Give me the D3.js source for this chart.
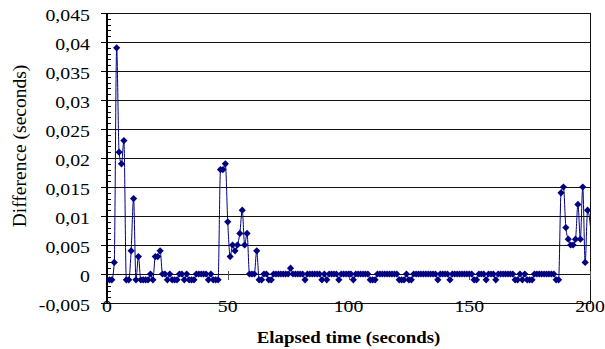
<!DOCTYPE html>
<html>
<head>
<meta charset="utf-8">
<script src="https://cdn.jsdelivr.net/npm/d3@7"></script>
<style>
  body { margin: 0; background: #fff; }
  svg { display: block; }
  text { font-family: "Liberation Serif", "Times New Roman", serif; fill: #000; }
</style>
</head>
<body>
<main></main>
<script>
// elapsed time (s) and measured difference (s)
var seconds = [
  1,2,3,4,5,6,7,8,9,10,11,12,13,14,15,16,17,18,19,20,
  21,22,23,24,25,26,27,28,29,30,31,32,33,34,35,36,37,38,39,40,
  41,42,43,44,45,46,47,48,49,50,51,52,53,54,55,56,57,58,59,60,
  61,62,63,64,65,66,67,68,69,70,71,72,73,74,75,76,77,78,79,80,
  81,82,83,84,85,86,87,88,89,90,91,92,93,94,95,96,97,98,99,100,
  101,102,103,104,105,106,107,108,109,110,111,112,113,114,115,116,117,118,119,120,
  121,122,123,124,125,126,127,128,129,130,131,132,133,134,135,136,137,138,139,140,
  141,142,143,144,145,146,147,148,149,150,151,152,153,154,155,156,157,158,159,160,
  161,162,163,164,165,166,167,168,169,170,171,172,173,174,175,176,177,178,179,180,
  181,182,183,184,185,186,187,188,189,190,191,192,193,194,195,196,197,198,199,201.5
];
var difference = [
  -0.001,-0.001,0.002,0.039,0.021,0.019,0.023,-0.001,-0.001,0.004,
  0.013,-0.001,0.003,-0.001,-0.001,-0.001,-0.001,0,-0.001,0.003,
  0.003,0.004,0,0,-0.001,0,-0.001,-0.001,-0.001,0,
  0,-0.001,0,-0.001,-0.001,-0.001,0,0,0,0,
  0,-0.001,0,-0.001,-0.001,-0.001,0.018,0.018,0.019,0.009,
  0.003,0.005,0.004,0.005,0.007,0.011,0.005,0.007,0,0,
  0,0.004,-0.001,-0.001,0,0,-0.001,-0.001,0,0,
  0,0,0,0,0,0.001,0,0,0,0,
  0,-0.001,0,0,0,0,0,0,-0.001,0,
  -0.001,0,0,0,0,-0.001,0,0,0,0,
  0,-0.001,0,0,0,0,0,0,-0.001,-0.001,
  -0.001,0,0,0,0,0,0,0,0,0,
  -0.001,-0.001,-0.001,0,-0.001,-0.001,0,0,0,0,
  0,0,0,0,0,0,-0.001,0,0,0,
  0,-0.001,0,0,0,0,0,0,0,0,
  0,-0.001,-0.001,0,0,0,-0.001,0,0,0,
  -0.001,0,0,0,0,0,0,0,-0.001,-0.001,
  0,-0.001,0,-0.001,-0.001,-0.001,0,0,0,0,
  0,0,0,0,0,-0.001,-0.001,0.014,0.015,0.008,
  0.006,0.005,0.005,0.006,0.012,0.006,0.015,0.002,0.011,0.001
];
var yTicks = [-0.005,0,0.005,0.01,0.015,0.02,0.025,0.03,0.035,0.04,0.045];
var yTickLabels = ["-0,005","0","0,005","0,01","0,015","0,02","0,025","0,03","0,035","0,04","0,045"];
var xTicks = [0,50,100,150,200];
var xTickLabels = ["0","50","100","150","200"];

var width = 605, height = 349;
var plotLeft = 107, plotRight = 590, plotTop = 13, plotBottom = 303;

var svg = d3.select("main")
  .append("svg")
  .attr("width", width)
  .attr("height", height);

var x = d3.scaleLinear().domain([0, 200]).range([plotLeft, plotRight]);
var y = d3.scaleLinear().domain([-0.005, 0.045]).range([plotBottom, plotTop]);

var data = seconds.map(function(s, i){ return {t: s, v: difference[i]}; });

//gridlines
svg.append("g")
  .selectAll("line")
  .data(yTicks)
  .enter()
  .append("line")
    .attr("x1", plotLeft)
    .attr("x2", plotRight)
    .attr("y1", function(d){ return Math.round(y(d)) + 0.5; })
    .attr("y2", function(d){ return Math.round(y(d)) + 0.5; })
    .style("stroke", "#111")
    .style("stroke-width", 1);

//right border
svg.append("line")
  .attr("x1", plotRight + 0.5).attr("x2", plotRight + 0.5)
  .attr("y1", plotTop).attr("y2", plotBottom + 1)
  .style("stroke", "#111");

//y axis with major + minor ticks
var yAxis = svg.append("g")
  .attr("transform", "translate(" + plotLeft + ",0)");
yAxis.append("line")
  .attr("y1", plotTop).attr("y2", plotBottom + 1)
  .style("stroke", "#000").style("stroke-width", 2);
yAxis.selectAll(".minor")
  .data(d3.range(-5, 46))
  .enter()
  .append("line")
    .attr("class", "minor")
    .attr("x1", 0).attr("x2", 4)
    .attr("y1", function(d){ return Math.round(y(d / 1000)) + 0.5; })
    .attr("y2", function(d){ return Math.round(y(d / 1000)) + 0.5; })
    .style("stroke", "#000");
yAxis.selectAll(".major")
  .data(yTicks)
  .enter()
  .append("line")
    .attr("class", "major")
    .attr("x1", -6).attr("x2", 4)
    .attr("y1", function(d){ return Math.round(y(d)) + 0.5; })
    .attr("y2", function(d){ return Math.round(y(d)) + 0.5; })
    .style("stroke", "#000");

svg.append("g")
  .selectAll("text")
  .data(yTicks)
  .enter()
  .append("text")
    .attr("transform", function(d){ return "translate(90," + (y(d) + 7.5) + ") scale(1.2,1)"; })
    .attr("text-anchor", "end")
    .attr("font-size", "16.5px")
    .text(function(d, i){ return yTickLabels[i]; });

//x axis ticks at zero line
svg.append("g")
  .selectAll("line")
  .data(xTicks.slice(1))
  .enter()
  .append("line")
    .attr("x1", function(d){ return Math.round(x(d)) + 0.5; })
    .attr("x2", function(d){ return Math.round(x(d)) + 0.5; })
    .attr("y1", y(0) - 3)
    .attr("y2", y(0) + 6)
    .style("stroke", "#555");

svg.append("g")
  .selectAll("text")
  .data(xTicks)
  .enter()
  .append("text")
    .attr("transform", function(d){ return "translate(" + x(d) + "," + 311.5 + ") scale(1.2,1)"; })
    .attr("text-anchor", "middle")
    .attr("font-size", "16.5px")
    .text(function(d, i){ return xTickLabels[i]; });

//series, clipped at the 200 s edge
svg.append("clipPath")
  .attr("id", "clip")
  .append("rect")
    .attr("x", 0).attr("y", 0)
    .attr("width", plotRight).attr("height", height);

var plot = svg.append("g").attr("clip-path", "url(#clip)");

var line = d3.line()
  .x(function(d){ return x(d.t); })
  .y(function(d){ return y(d.v); })
  .curve(d3.curveMonotoneX);

plot.append("path")
  .datum(data)
  .attr("d", line)
  .style("fill", "none")
  .style("stroke", "#000080")
  .style("stroke-width", 1);

plot.selectAll(".marker")
  .data(data)
  .enter()
  .append("path")
    .attr("class", "marker")
    .attr("transform", function(d){ return "translate(" + x(d.t) + "," + y(d.v) + ")"; })
    .attr("d", "M0,-3.6L3.6,0L0,3.6L-3.6,0Z")
    .style("fill", "#000080");

//axis titles
svg.append("text")
  .attr("transform", "translate(" + ((plotLeft + plotRight) / 2) + ",343) scale(1.08,1)")
  .attr("text-anchor", "middle")
  .attr("font-size", "17.5px")
  .attr("font-weight", "bold")
  .text("Elapsed time (seconds)");

svg.append("text")
  .attr("transform", "translate(26,146) rotate(-90)")
  .attr("text-anchor", "middle")
  .attr("font-size", "19.5px")
  .text("Difference (seconds)");
</script>
</body>
</html>
